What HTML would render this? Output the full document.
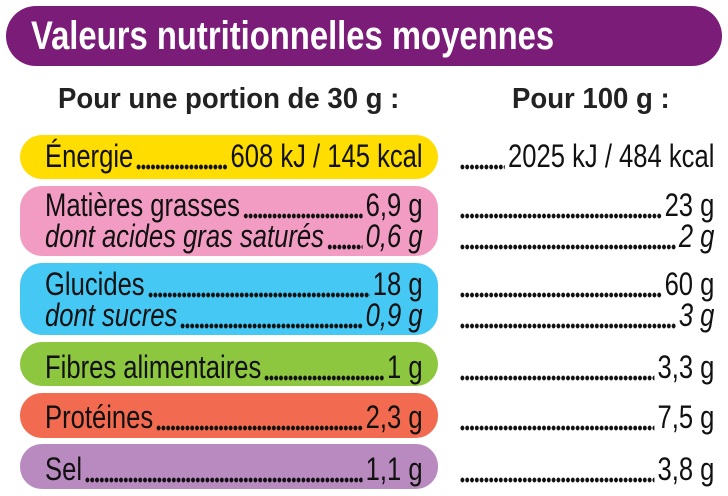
<!DOCTYPE html>
<html><head><meta charset="utf-8"><style>
body{margin:0;width:728px;height:496px;background:#fff;position:relative;overflow:hidden;font-family:"Liberation Sans",sans-serif;color:#111}
.pill{position:absolute;left:20px;width:418px;border-radius:22px}
.row{position:absolute;height:32px;line-height:32px;font-size:32px;display:flex;transform:scaleX(0.8);transform-origin:left top;white-space:nowrap}
.row .d{flex:1;margin:0 4px;height:32px;background-image:radial-gradient(circle,#111 2.2px,transparent 2.6px);background-size:6px 6px;background-repeat:repeat-x;background-position:0 24px}
.i{font-style:italic}
.L{left:45px;width:472px}
.R{left:460px;width:318px}
</style></head><body>
<div style="position:absolute;left:6px;top:6px;width:716px;height:60px;background:#7a1c78;border-radius:30px"></div>
<div style="position:absolute;left:31px;top:13px;font-size:40px;line-height:46px;font-weight:bold;color:#fff;transform:scaleX(0.82);transform-origin:left top;white-space:nowrap">Valeurs nutritionnelles moyennes</div>
<div style="position:absolute;left:58px;top:82px;font-size:29px;line-height:34px;font-weight:bold;color:#222;transform:scaleX(0.95);transform-origin:left top;white-space:nowrap">Pour une portion de 30 g :</div>
<div style="position:absolute;left:512px;top:82px;font-size:29px;line-height:34px;font-weight:bold;color:#222;transform:scaleX(0.95);transform-origin:left top;white-space:nowrap">Pour 100 g :</div>

<div class="pill" style="top:135px;height:44px;background:#ffdd00"></div>
<div class="pill" style="top:186px;height:70px;background:#f29cc3"></div>
<div class="pill" style="top:263px;height:72px;background:#45c8f3"></div>
<div class="pill" style="top:342px;height:44px;background:#8dc63f"></div>
<div class="pill" style="top:393px;height:45px;background:#f26b50"></div>
<div class="pill" style="top:444px;height:45px;background:#b98ac0"></div>

<div class="row L" style="top:140px"><span>Énergie</span><span class="d"></span><span>608 kJ / 145 kcal</span></div>
<div class="row L" style="top:189px"><span>Matières grasses</span><span class="d"></span><span>6,9 g</span></div>
<div class="row L i" style="top:220px"><span>dont acides gras saturés</span><span class="d"></span><span>0,6 g</span></div>
<div class="row L" style="top:268px"><span>Glucides</span><span class="d"></span><span>18 g</span></div>
<div class="row L i" style="top:299px"><span>dont sucres</span><span class="d"></span><span>0,9 g</span></div>
<div class="row L" style="top:351px"><span>Fibres alimentaires</span><span class="d"></span><span>1 g</span></div>
<div class="row L" style="top:401px"><span>Protéines</span><span class="d"></span><span>2,3 g</span></div>
<div class="row L" style="top:453px"><span>Sel</span><span class="d"></span><span>1,1 g</span></div>

<div class="row R" style="top:140px"><span class="d" style="margin-left:0"></span><span>2025 kJ / 484 kcal</span></div>
<div class="row R" style="top:189px"><span class="d" style="margin-left:0"></span><span>23 g</span></div>
<div class="row R i" style="top:220px"><span class="d" style="margin-left:0"></span><span>2 g</span></div>
<div class="row R" style="top:268px"><span class="d" style="margin-left:0"></span><span>60 g</span></div>
<div class="row R i" style="top:299px"><span class="d" style="margin-left:0"></span><span>3 g</span></div>
<div class="row R" style="top:351px"><span class="d" style="margin-left:0"></span><span>3,3 g</span></div>
<div class="row R" style="top:401px"><span class="d" style="margin-left:0"></span><span>7,5 g</span></div>
<div class="row R" style="top:453px"><span class="d" style="margin-left:0"></span><span>3,8 g</span></div>
</body></html>
